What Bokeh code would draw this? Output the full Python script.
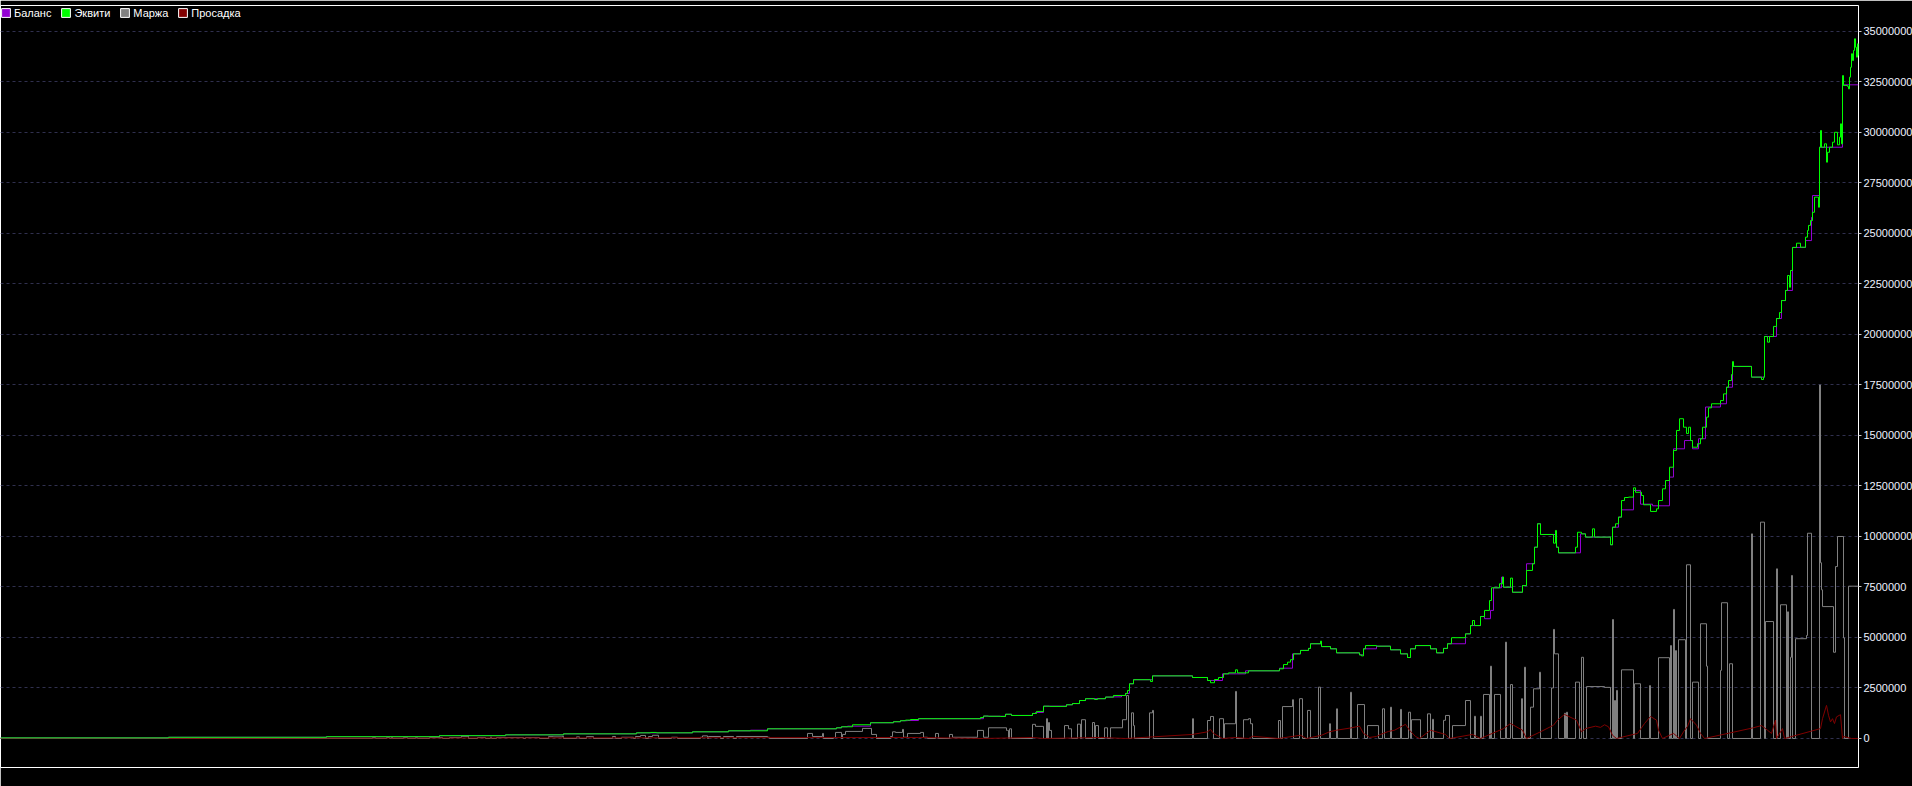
from bokeh.plotting import figure
from bokeh.models import Range1d, FixedTicker, PrintfTickFormatter, Legend, LegendItem
from bokeh.embed import file_html
from bokeh.resources import INLINE

# ---------------- data (values in millions; x = bar index) ----------------
equity_x = [0,168,326,439,505,563,636,650,656,692,728,767,836,841,852,870,893,900,905,910,918,980,983,988,
            1000,1005,1011,1032,1036,1043,1049,1066,1072,1079,1085,1094,1097,1105,1113,1125,1127,1129,1133,1150,1152,
            1192,1207,1210,1214,1218,1223,1228,1235,1237,1248,1279,1283,1287,1290,1293,1300,1308,1310,1320,1321,1330,
            1336,1359,1361,1363,1365,1376,1390,1400,1407,1410,1415,1430,1436,1443,1447,1451,1465,1470,1472,1474,1480,
            1484,1489,1491,1499,1502,1503,1510,1512,1522,1526,1532,1534,1537,1540,1553,1555,1556,1558,1575,1577,1581,
            1585,1592,1594,1610,1612,1615,1618,1621,1624,1628,1633,1635,1641,1643,1650,1656,1658,1662,1665,1669,1673,
            1676,1679,1683,1686,1688,1690,1692,1697,1700,1702,1706,1708,1711,1720,1723,1726,1728,1731,1732,1733,1751,
            1761,1763,1764,1767,1769,1773,1776,1779,1781,1785,1787,1789,1790,1792,1796,1800,1805,1807,1808,1810,1812,
            1814,1818,1819,1820,1821,1824,1826,1827,1829,1832,1834,1837,1839,1840,1841,1842,1843,1847,1848,1849,1850,
            1851,1852,1853,1854,1855,1856,1857,1858]
equity_m = [0.03,0.06,0.09,0.14,0.18,0.23,0.28,0.30,0.28,0.33,0.38,0.48,0.53,0.58,0.68,0.78,0.83,0.88,0.91,0.94,0.98,1.04,1.11,1.10,
            1.09,1.20,1.14,1.24,1.34,1.60,1.59,1.67,1.73,1.88,1.97,1.93,1.97,2.05,2.13,2.23,2.38,2.71,2.91,2.82,3.10,
            3.02,2.87,2.76,2.92,3.02,3.20,3.25,3.40,3.25,3.35,3.45,3.66,3.78,3.90,4.19,4.36,4.46,4.69,4.82,4.55,4.44,
            4.24,4.14,4.09,4.44,4.60,4.57,4.39,4.19,4.01,4.44,4.60,4.44,4.24,4.46,4.69,4.99,5.18,5.59,5.84,5.59,6.04,
            6.34,6.83,7.46,7.66,7.99,7.49,7.94,7.24,7.57,8.32,8.65,9.47,10.63,10.10,9.67,10.30,9.47,9.19,9.47,10.21,10.13,
            9.97,10.38,9.97,9.59,10.46,10.63,10.96,11.78,11.93,11.95,12.41,12.19,12.03,11.57,11.24,11.37,11.78,12.36,12.77,13.43,14.26,
            15.25,15.83,15.41,15.10,15.41,14.75,14.42,14.59,14.84,15.41,15.91,16.37,16.57,16.73,17.06,17.39,17.72,18.02,18.66,18.42,17.89,
            17.77,17.89,19.90,19.62,19.90,20.40,20.79,21.09,21.68,22.18,22.92,22.34,23.17,24.31,24.52,24.32,24.82,25.15,25.40,25.64,26.05,
            26.80,26.30,29.27,30.10,29.27,29.44,28.53,29.02,29.27,29.52,30.01,29.39,29.77,30.43,29.44,32.82,32.33,32.28,32.16,32.74,33.23,
            33.90,33.56,34.06,34.64,34.22,33.73,34.39,33.81]

balance_x = [0,168,326,439,505,563,636,692,728,750,767,836,841,847,870,893,900,907,918,983,988,1005,1011,1032,1035,1043,
             1066,1072,1079,1085,1105,1113,1121,1125,1129,1133,1152,1192,1207,1222,1245,1279,1292,1300,1308,1310,1321,1330,
             1336,1359,1363,1376,1390,1400,1407,1410,1415,1430,1436,1443,1447,1465,1470,1480,1484,1490,1493,1501,1503,1512,
             1522,1526,1534,1537,1540,1556,1558,1580,1585,1610,1612,1618,1621,1633,1640,1652,1669,1673,1684,1692,1698,1705,
             1720,1726,1732,1751,1764,1776,1781,1785,1792,1805,1811,1812,1819,1842,1858]
balance_m = [0.03,0.06,0.09,0.14,0.18,0.23,0.28,0.33,0.38,0.41,0.48,0.53,0.58,0.61,0.78,0.83,0.88,0.89,0.98,1.11,1.10,1.20,1.14,1.24,1.29,1.60,
             1.67,1.73,1.88,1.97,2.05,2.06,2.13,2.23,2.71,2.91,3.10,3.02,2.87,3.20,3.35,3.48,4.19,4.36,4.46,4.69,4.55,4.44,
             4.24,4.14,4.44,4.57,4.39,4.19,4.01,4.44,4.60,4.44,4.24,4.46,4.69,5.18,5.59,6.04,5.93,6.34,7.46,7.99,7.49,7.24,
             7.57,8.65,9.47,10.63,10.10,9.47,9.19,10.13,9.97,9.59,10.46,10.96,11.32,12.28,11.60,11.52,12.94,14.34,14.75,14.34,14.84,16.41,
             16.57,17.39,18.42,17.89,19.90,20.79,21.68,22.18,24.31,24.65,25.80,26.88,29.27,32.36,32.36]

margin_x = [0,372,375,386,389,391,392,403,407,415,417,429,442,449,461,468,477,485,490,491,496,523,525,539,548,553,562,563,
            576,579,586,593,612,615,621,633,635,640,645,648,652,658,671,677,700,702,707,708,720,723,733,736,767,769,
            807,812,822,823,833,835,841,842,845,862,871,876,890,892,895,902,903,907,920,923,927,935,938,949,952,977,983,988,
            1006,1007,1008,1009,1011,1032,1035,1043,1046,1047,1048,1049,1051,1064,1068,1071,1077,1080,1081,1085,1092,1094,
            1095,1098,1104,1107,1110,1122,1126,1128,1131,1133,1134,1149,1152,1153,1192,1193,1207,1210,1213,1219,1223,1224,
            1235,1236,1243,1248,1250,1252,1278,1280,1282,1292,1293,1299,1302,1307,1310,1318,1320,
            1329,1330,1336,1337,1350,1351,1357,1364,1367,1378,1382,1384,1390,1391,1400,1401,1408,1410,1411,1420,1427,1430,
            1432,1433,1443,1445,1449,1452,1465,1470,1474,1475,1480,1481,1483,1489,1490,1491,1494,1500,1505,1506,1510,1512,
            1521,1522,1524,1525,1530,1533,1539,1540,1551,1553,1554,1558,1564,1565,1566,1567,1575,1579,1581,1583,1586,1604,
            1610,1612,1613,1614,1615,1616,1617,1621,1633,1634,1640,1649,1650,1658,1669,1670,1671,1673,1674,1675,1676,1678,
            1685,1686,1690,1692,1698,1700,1706,1707,1720,1721,1727,1729,1732,1751,1752,1760,1764,1765,1773,1776,1777,1780,
            1786,1787,1788,1790,1791,1792,1795,1806,1807,1811,1819,1820,1821,1822,1833,1835,1837,1843,1844,1848,1858]
margin_m = [0,0.05,0,0.05,0,0.07,0,0.05,0,0.05,0,0.05,0,0.05,0.11,0,0.05,0,0.07,0,0.05,0,0.05,0,0.09,0.08,0.11,0,
            0.08,0,0.09,0,0.10,0,0.06,0,0.10,0.15,0,0.10,0.16,0,0.06,0,0.06,0.13,0,0.10,0,0.10,0,0.10,0.06,0,
            0.25,0.10,0.25,0,0.05,0.30,0,0.20,0.35,0.50,0.20,0,0.10,0.33,0.30,0.45,0.06,0.25,0.30,0.06,0,0.25,0,0.20,0.06,0.40,0.06,0.53,
            0.40,0.40,0,0.48,0,0.70,0.60,0,0.98,0,0.79,0.40,0,0.64,0.48,0,0.71,0,0.93,0,0.79,0,
            0.64,0,0.53,0,0.53,0.93,2.13,0,1.27,0.64,0,1.27,1.39,0,0.98,0,0.89,1.09,0,0.98,0,0.73,
            2.33,0,0.93,0.98,0.73,0,0.89,0,1.58,1.92,0,1.97,0,1.39,0,2.54,0,
            0.73,0,1.47,0,2.29,0,1.68,0,0.64,0,1.47,0,1.55,0,1.44,0,1.30,0,0.93,0,1.22,0,
            0.95,0,0.90,1.14,0,0.64,1.88,0,1.10,0,1.10,0,2.18,0,3.58,0,2.18,0,4.77,0,2.67,0,
            1.97,0,3.53,0,1.55,2.46,3.28,0,2.50,5.40,4.19,0,1.25,0,1.30,0,2.79,0,4.02,0,2.57,2.53,
            0,5.89,0,1.88,0,2.38,0,3.40,0,2.71,0,2.62,0,4.00,0,4.60,0,6.39,0,4.35,0,4.89,
            0,8.60,0,2.79,0,5.68,3.58,0,3.37,6.72,0,3.70,0,10.13,0,10.71,0,5.79,0,8.40,0,6.62,
            0,6.27,0,4.02,8.07,0,4.94,5.10,10.16,0,17.50,8.70,7.36,6.53,4.27,8.51,10.00,4.98,0,7.54,7.54]

drawdown_x = [0,918,983,1032,1043,1100,1125,1152,1192,1207,1210,1213,1222,1235,1248,1252,1278,1300,1306,1321,1329,1336,
              1350,1359,1363,1367,1369,1376,1380,1388,1394,1405,1409,1415,1419,1430,1445,1449,1472,1480,1503,1510,1522,
              1526,1540,1553,1557,1564,1576,1581,1585,1595,1600,1604,1608,1612,1616,1637,1644,1650,1656,1658,1662,1673,
              1679,1683,1687,1690,1696,1700,1704,1752,1761,1767,1771,1775,1776,1782,1784,1820,1822,1826,1828,1830,1832,
              1834,1836,1840,1842,1843,1851,1858]
drawdown_m = [0,0.05,0,0.05,0,0.05,0,0.08,0.20,0.33,0.45,0.25,0,0.05,0,0.11,0,0.16,0,0.16,0.33,0.41,
              0.52,0.61,0.25,0.13,0.05,0.10,0.20,0.35,0.41,0.70,0.41,0.10,0,0.41,0.20,0,0.20,0,0.49,0.74,0.41,
              0,0.33,0.66,0.91,1.19,0.91,0.33,0.49,0.61,0.55,0.68,0.58,0.16,0,0.25,0.74,1.09,0.91,0.41,0,0.25,
              0,0.33,0.60,0.98,0.66,0.25,0,0.52,0.64,0.41,0.25,0.91,0,0.49,0,0.49,0.98,1.64,1.15,0.82,0.98,
              0.74,1.07,1.18,0,0.10,0,0]

y_ticks = [0, 2500000, 5000000, 7500000, 10000000, 12500000, 15000000, 17500000,
           20000000, 22500000, 25000000, 27500000, 30000000, 32500000, 35000000]
series_names = ["Баланс", "Эквити", "Маржа", "Просадка"]
series_colors = ["#9400d3", "#00ff00", "#808080", "#800000"]

M = 1_000_000
equity = [v * M for v in equity_m]
balance = [v * M for v in balance_m]
margin = [v * M for v in margin_m]
drawdown = [v * M for v in drawdown_m]

FONT = "Liberation Sans"

p = figure(frame_width=1858, frame_height=762,
           min_border_left=0, min_border_top=5, min_border_bottom=19, min_border_right=54,
           x_range=Range1d(0, 1858), y_range=Range1d(-1436000, 36287000),
           output_backend="svg", toolbar_location=None,
           x_axis_location=None, y_axis_location="right",
           background_fill_color="black", border_fill_color="black",
           outline_line_color="white", outline_line_width=1)

p.xgrid.visible = False
p.ygrid.grid_line_color = "#30304e"
p.ygrid.grid_line_dash = "3 3"
p.ygrid.grid_line_width = 1

ax = p.yaxis[0]
ax.ticker = FixedTicker(ticks=y_ticks)
ax.formatter = PrintfTickFormatter(format="%d")
ax.axis_line_color = None
ax.major_tick_in = 0
ax.major_tick_out = 3
ax.major_tick_line_color = "#c8c8c8"
ax.minor_tick_line_color = None
ax.major_label_standoff = 2
ax.major_label_text_color = "#eef2ff"
ax.major_label_text_font = FONT
ax.major_label_text_font_size = "11px"

p.step(margin_x, margin, mode="after", line_color=series_colors[2], line_width=1)
p.line(drawdown_x, drawdown, line_color=series_colors[3], line_width=1)
p.step(balance_x, balance, mode="after", line_color=series_colors[0], line_width=1)
p.step(equity_x, equity, mode="after", line_color=series_colors[1], line_width=1)

items = []
for name, col in zip(series_names, series_colors):
    r = p.quad(left=[float("nan")], right=[float("nan")], bottom=[float("nan")], top=[float("nan")],
               fill_color=col, line_color="white", line_width=1)
    items.append(LegendItem(label=name, renderers=[r]))

legend = Legend(items=items, location="top_left", orientation="horizontal",
                background_fill_alpha=0, border_line_color=None,
                margin=0, padding=4, spacing=9,
                glyph_width=11, glyph_height=11, label_standoff=3,
                label_text_color="white", label_text_font=FONT,
                label_text_font_size="11px", label_height=15)
p.add_layout(legend)

open("out.html", "w").write(file_html(p, INLINE))
